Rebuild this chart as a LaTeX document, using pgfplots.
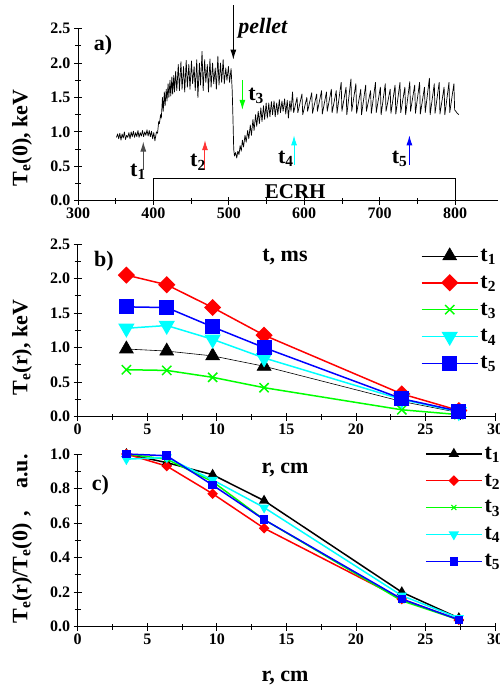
\documentclass[border=0pt]{standalone}
\usepackage{pgfplots}
\pgfplotsset{compat=1.18}
\usepackage{fontspec}
\setmainfont{Liberation Serif}
\usetikzlibrary{arrows.meta}
\definecolor{cred}{RGB}{255,0,0}
\definecolor{cgreen}{RGB}{0,255,0}
\definecolor{ccyan}{RGB}{0,255,255}
\definecolor{cblue}{RGB}{0,0,255}
\newcommand{\lfont}{\bfseries\fontsize{22}{24}\selectfont}
\begin{document}
\begin{tikzpicture}
\path[use as bounding box] (0pt,0pt) rectangle (500pt,693pt);
\pgfplotsset{
  every axis/.append style={
    scale only axis, axis lines=left, axis line style={-, line width=1pt},
    tick align=center, major tick length=8pt, minor tick length=6pt,
    major tick style={line width=0.8pt, black}, minor tick style={line width=0.8pt, black},
    tick label style={font=\bfseries\fontsize{16}{16}\selectfont},
    /pgf/number format/assume math mode=true,
    clip=false,
    yticklabel style={/pgf/number format/.cd, fixed, fixed zerofill, precision=1},
    legend cell align=left,
  },
  biglegend/.style={legend image code/.code={\draw[mark repeat=2,mark phase=2] plot coordinates {(0pt,0pt) (28pt,0pt) (56pt,0pt)};}},
}
% ---------------- panel a ----------------
\begin{axis}[at={(78pt,492.3pt)}, anchor=south west, width=420pt, height=172pt,
  xmin=300, xmax=857, ymin=0, ymax=2.5,
  xtick={300,400,...,800}, minor x tick num=1,
  ytick={0,0.5,1.0,1.5,2.0,2.5}, minor y tick num=1]
\addplot[black, line width=0.7pt, line join=round] coordinates {
(351,0.92)(352.5,0.97)(354,0.90)(355.5,0.98)(357,0.88)(358.5,0.97)(360,0.91)(361.5,1.00)(363,0.89)(364.5,0.95)(366,0.92)(367.5,0.99)(369,0.90)(370.5,1.00)(372,0.93)(373.5,1.01)(375,0.92)(376.5,0.99)(378,0.93)(379.5,1.02)(381,0.92)(382.5,0.99)(384,0.94)(385.5,1.02)(387,0.93)(388.5,1.00)(390,0.95)(391.5,1.03)(393,0.94)(394.5,1.02)(396,0.93)(397.5,1.01)(399,0.90)(400.5,0.99)(402,0.87)
(404,1.0)(405.5,0.98)(407,1.15)(408,1.12)(409.5,1.25)(410.5,1.2)(412,1.5)(413,1.3)(414.5,1.58)(415.5,1.38)(417,1.62)(418,1.45)(419.5,1.7)(420.5,1.5)(422,1.75)(423,1.52)(424.5,1.8)(425.5,1.55)(427,1.82)(428,1.58)(429.5,1.88)(431,1.6)
(433,1.98)(434.5,1.6)(436.5,2.02)(438,1.62)(440,1.95)(441.5,1.58)(443.5,2.04)(445,1.65)(447,1.98)(448.5,1.62)(450.5,2.03)(452,1.7)(454,1.95)(455.5,1.6)(457.5,2.05)(459,1.5)(461,2.0)(462.5,1.68)(464.5,2.17)(466,1.6)(468,2.05)(469.5,1.72)(471.5,1.98)(473,1.58)(475,2.06)(476.5,1.65)(478.5,2.0)(480,1.7)(482,1.93)(483.5,1.62)(485.5,2.1)(487,1.68)(489,2.0)(490.5,1.72)(492.5,2.05)(494,1.7)(496,1.93)(497.5,1.75)(499.5,1.95)(501,1.72)(503,1.92)(504.5,1.6)(505.5,1.2)(506.5,0.75)(507.5,0.65)
(509,0.7)(510.5,0.62)(512,0.72)(513.5,0.67)(515,0.8)(516.5,0.72)(518,0.88)(519.5,0.78)(521.5,0.95)(523,0.85)(525,1.02)(526.5,0.9)(528.5,1.1)(530,0.95)(532,1.18)(533.5,1.02)(535.5,1.25)(537,1.08)(539,1.3)(540.5,1.12)(542.5,1.35)(544,1.15)(546,1.38)(547.5,1.18)(549.5,1.42)(551,1.2)(553,1.42)(554.5,1.22)(556.5,1.44)(558,1.25)(560,1.45)(561.5,1.22)(563.5,1.42)(565,1.25)(567,1.47)(568.5,1.28)(570.5,1.45)(572,1.3)(574,1.48)(575.5,1.26)(577.5,1.46)(579,1.2)(581,1.45)(582.5,1.3)(584.5,1.58)(586,1.28)
(590.5,1.50)(591.5,1.28)(597,1.55)(598,1.25)(603.5,1.50)(604.5,1.30)(610,1.57)(611,1.27)(616.5,1.55)(617.5,1.30)(623,1.60)(624,1.26)(629.5,1.58)(630.5,1.30)(636,1.62)(637,1.28)(642.5,1.60)(643.5,1.27)(649,1.72)(650,1.30)(655.5,1.65)(656.5,1.25)(662,1.77)(663,1.30)(668.5,1.70)(669.5,1.27)(675,1.62)(676,1.25)(681.5,1.68)(682.5,1.30)(688,1.60)(689,1.27)(694.5,1.72)(695.5,1.28)(701,1.65)(702,1.25)(707.5,1.70)(708.5,1.30)(714,1.62)(715,1.27)(720.5,1.68)(721.5,1.26)(727,1.72)(728,1.28)(733.5,1.65)(734.5,1.25)(740,1.73)(741,1.30)(746.5,1.68)(747.5,1.27)(753,1.72)(754,1.26)(759.5,1.65)(760.5,1.28)(766,1.78)(767,1.25)(772.5,1.70)(773.5,1.27)(779,1.72)(780,1.26)(785.5,1.65)(786.5,1.25)(792,1.72)(793,1.28)(798.5,1.70)(799.5,1.32)(801,1.30)(803,1.27)(805,1.25)
};
\draw[black, line width=0.8pt] (axis cs:400,0) -- (axis cs:400,0.33) -- (axis cs:800,0.33) -- (axis cs:800,0);
\node[anchor=base, font=\bfseries\fontsize{21}{21}\selectfont] at (axis cs:588,0.035) {ECRH};
\draw[black, line width=1pt, -{Latex[length=10pt,width=6pt]}] (axis cs:506,2.84) -- (axis cs:506,2.05);
\node[anchor=base west, font=\bfseries\itshape\fontsize{22}{22}\selectfont] at (axis cs:508,2.43) {pellet};
\draw[black!70, line width=1pt, -{Latex[length=10pt,width=6pt]}] (axis cs:386.6,0.45) -- (axis cs:386.6,0.86);
\draw[cred!80, line width=1pt, -{Latex[length=10pt,width=6pt]}] (axis cs:468.4,0.45) -- (axis cs:468.4,0.88);
\draw[cgreen, line width=1pt, -{Latex[length=10pt,width=6pt]}] (axis cs:518,1.75) -- (axis cs:518,1.32);
\draw[ccyan, line width=1pt, -{Latex[length=10pt,width=6pt]}] (axis cs:586.5,0.52) -- (axis cs:586.5,0.95);
\draw[cblue, line width=1pt, -{Latex[length=10pt,width=6pt]}] (axis cs:739.5,0.52) -- (axis cs:739.5,0.95);
\node[anchor=base west, font=\lfont, inner sep=0pt] at (axis cs:369,0.35) {t\textsubscript{1}};
\node[anchor=base west, font=\lfont, inner sep=0pt] at (axis cs:448.5,0.49) {t\textsubscript{2}};
\node[anchor=base west, font=\lfont, inner sep=0pt] at (axis cs:525.6,1.46) {t\textsubscript{3}};
\node[anchor=base west, font=\lfont, inner sep=0pt] at (axis cs:565,0.54) {t\textsubscript{4}};
\node[anchor=base west, font=\lfont, inner sep=0pt] at (axis cs:716,0.54) {t\textsubscript{5}};
\end{axis}
% ---------------- panel b ----------------
\begin{axis}[at={(77.7pt,276.3pt)}, anchor=south west, width=417.3pt, height=172.7pt,
  xmin=0, xmax=30, ymin=0, ymax=2.5,
  xtick={0,5,...,30}, minor x tick num=1,
  ytick={0,0.5,1.0,1.5,2.0,2.5}, minor y tick num=1,
  biglegend,
  legend style={at={(rel axis cs:1.01,0.99)}, anchor=north east, draw=none, fill=none, font=\lfont, row sep=9pt, inner sep=1pt}]
\addplot[black, line width=0.6pt, mark=triangle*, mark size=8pt, mark options={fill=black}] coordinates {(3.5,0.98)(6.4,0.95)(9.7,0.88)(13.4,0.73)(23.3,0.22)(27.4,0.06)};
\addlegendentry{t\textsubscript{1}}
\addplot[cred, line width=1.5pt, mark=square*, mark size=5.3pt, mark options={rotate=45, fill=cred}] coordinates {(3.5,2.05)(6.4,1.91)(9.7,1.58)(13.4,1.18)(23.3,0.33)(27.4,0.09)};
\addlegendentry{t\textsubscript{2}}
\addplot[cgreen, line width=1.5pt, mark=x, mark size=6.5pt, mark options={line width=1.5pt}] coordinates {(3.5,0.68)(6.4,0.67)(9.7,0.57)(13.4,0.42)(23.3,0.10)(27.4,0.03)};
\addlegendentry{t\textsubscript{3}}
\addplot[ccyan, line width=1.5pt, mark=triangle*, mark size=8pt, mark options={rotate=180, fill=ccyan}] coordinates {(3.5,1.28)(6.4,1.32)(9.7,1.12)(13.4,0.85)(23.3,0.25)(27.4,0.07)};
\addlegendentry{t\textsubscript{4}}
\addplot[cblue, line width=1.5pt, mark=square*, mark size=6.7pt, mark options={fill=cblue}] coordinates {(3.5,1.59)(6.4,1.58)(9.7,1.30)(13.4,1.00)(23.3,0.26)(27.4,0.08)};
\addlegendentry{t\textsubscript{5}}
\end{axis}
% ---------------- panel c ----------------
\begin{axis}[at={(77.7pt,66.3pt)}, anchor=south west, width=417.3pt, height=172.7pt,
  xmin=0, xmax=30, ymin=0, ymax=1.0,
  xtick={0,5,...,30}, minor x tick num=1,
  ytick={0,0.2,0.4,0.6,0.8,1.0}, minor y tick num=1,
  biglegend,
  legend style={at={(rel axis cs:1.02,1.06)}, anchor=north east, draw=none, fill=none, font=\lfont, row sep=9pt, inner sep=1pt}]
\addplot[black, line width=1.5pt, mark=triangle*, mark size=4.5pt, mark options={fill=black}] coordinates {(3.5,1.00)(6.4,0.95)(9.7,0.88)(13.4,0.73)(23.3,0.20)(27.4,0.05)};
\addlegendentry{t\textsubscript{1}}
\addplot[cred, line width=1.5pt, mark=square*, mark size=3pt, mark options={rotate=45, fill=cred}] coordinates {(3.5,1.00)(6.4,0.93)(9.7,0.77)(13.4,0.57)(23.3,0.16)(27.4,0.04)};
\addlegendentry{t\textsubscript{2}}
\addplot[cgreen, line width=1.5pt, mark=x, mark size=3.5pt, mark options={line width=1pt}] coordinates {(3.5,1.00)(6.4,0.97)(9.7,0.84)(13.4,0.62)(23.3,0.15)(27.4,0.04)};
\addlegendentry{t\textsubscript{3}}
\addplot[ccyan, line width=1.5pt, mark=triangle*, mark size=4.5pt, mark options={rotate=180, fill=ccyan}] coordinates {(3.5,0.97)(6.4,0.98)(9.7,0.85)(13.4,0.69)(23.3,0.18)(27.4,0.05)};
\addlegendentry{t\textsubscript{4}}
\addplot[cblue, line width=1.5pt, mark=square*, mark size=3.5pt, mark options={fill=cblue}] coordinates {(3.5,1.00)(6.4,0.99)(9.7,0.82)(13.4,0.62)(23.3,0.16)(27.4,0.04)};
\addlegendentry{t\textsubscript{5}}
\end{axis}
% ---------------- labels ----------------
\node[font=\lfont] at (103pt,648pt) {a)};
\node[font=\lfont] at (104pt,431.3pt) {b)};
\node[font=\lfont] at (100.5pt,207.5pt) {c)};
\node[font=\lfont] at (285pt,436.3pt) {t, ms};
\node[font=\lfont] at (285pt,223pt) {r, cm};
\node[font=\lfont] at (285pt,15pt) {r, cm};
\node[font=\lfont, rotate=90] at (22pt,555pt) {T\textsubscript{e}(0), keV};
\node[font=\lfont, rotate=90] at (22pt,345.5pt) {T\textsubscript{e}(r), keV};
\node[font=\lfont, rotate=90] at (22pt,154pt) {T\textsubscript{e}(r)/T\textsubscript{e}(0)\,\,,\quad a.u.};
\end{tikzpicture}
\end{document}
